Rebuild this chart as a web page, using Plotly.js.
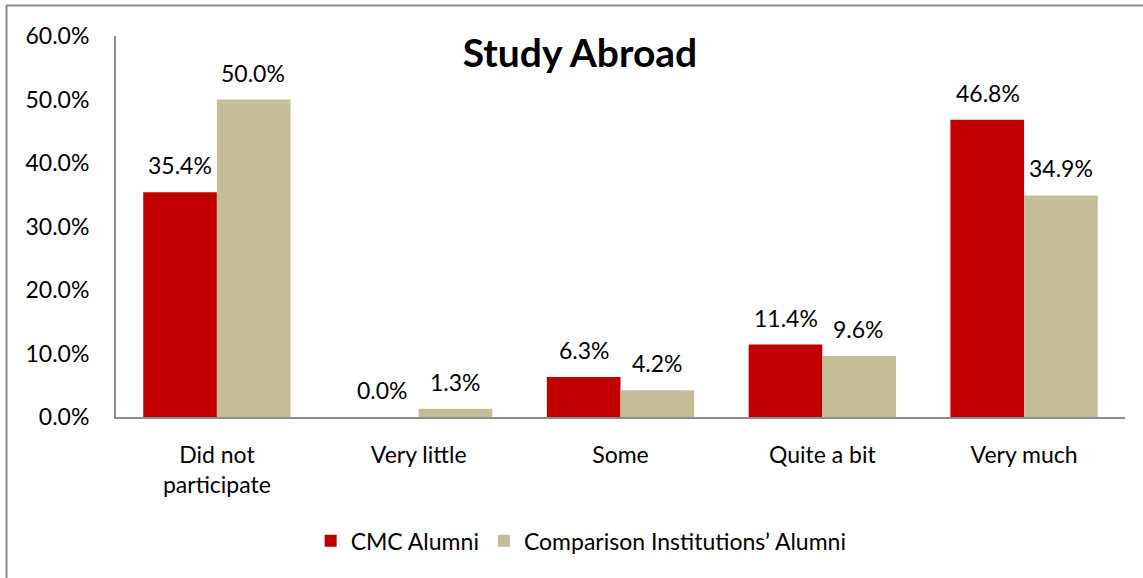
<!DOCTYPE html>
<html>
<head>
<meta charset="utf-8">
<script src="https://cdn.plot.ly/plotly-3.0.1.min.js"></script>
<style>html,body{margin:0;padding:0;background:#fff;}#chart{width:1143px;height:578px;}</style>
</head>
<body>
<div id="chart"></div>
<script>
var categories = ["Did not<br>participate", "Very little", "Some", "Quite a bit", "Very much"];
var seriesNames = ["CMC Alumni", "Comparison Institutions’ Alumni"];
var cmcValues = [35.4, 0.0, 6.3, 11.4, 46.8];
var compValues = [50.0, 1.3, 4.2, 9.6, 34.9];
var yTickVals = [0, 10, 20, 30, 40, 50, 60];
var yTickText = ["0.0%", "10.0%", "20.0%", "30.0%", "40.0%", "50.0%", "60.0%"];

var FONT = "Lato, 'Open Sans', sans-serif";
var FS = 23;
var RED = "#C00000", TAN = "#C4BD97";

var traces = [
  {type: "bar", name: seriesNames[0], x: categories, y: cmcValues, marker: {color: RED}, hoverinfo: "none"},
  {type: "bar", name: seriesNames[1], x: categories, y: compValues, marker: {color: TAN}, hoverinfo: "none"}
];

var annotations = [];
function addLabels(vals, shift) {
  vals.forEach(function (v, i) {
    annotations.push({
      x: categories[i], y: v, xref: "x", yref: "y",
      text: v.toFixed(1) + "%", showarrow: false,
      xanchor: "center", yanchor: "bottom", xshift: shift, yshift: 11,
      font: {family: FONT, size: FS, color: "#000"}
    });
  });
}
addLabels(cmcValues, -36.5);
addLabels(compValues, 36.5);

var layout = {
  width: 1143, height: 578,
  margin: {l: 116, r: 18, t: 36, b: 161},
  paper_bgcolor: "#fff", plot_bgcolor: "#fff",
  font: {family: FONT, size: FS, color: "#000"},
  title: {text: "<b>Study Abroad</b>", font: {family: FONT, size: 39, color: "#000"},
          x: 580 / 1143, xanchor: "center", y: 1 - 53 / 578, yanchor: "middle"},
  barmode: "group", bargap: 0.27, bargroupgap: 0,
  showlegend: true,
  legend: {orientation: "h", x: 0.461, xanchor: "center", y: -0.325, yanchor: "middle",
           font: {family: FONT, size: FS, color: "#000"}, itemwidth: 30, traceorder: "normal"},
  xaxis: {type: "category", showline: true, linecolor: "#8c8c8c", linewidth: 2,
          showgrid: false, zeroline: false, ticks: "outside", ticklen: 16, tickcolor: "rgba(0,0,0,0)",
          tickfont: {family: FONT, size: FS, color: "#000"}, fixedrange: true},
  yaxis: {range: [0, 60], tickvals: yTickVals, ticktext: yTickText, showline: true,
          linecolor: "#8c8c8c", linewidth: 2, showgrid: false, zeroline: false,
          ticks: "outside", ticklen: 20, tickcolor: "rgba(0,0,0,0)",
          tickfont: {family: FONT, size: FS, color: "#000"}, fixedrange: true},
  annotations: annotations,
  shapes: [
    {type: "line", xref: "paper", yref: "paper", x0: (6.5 - 116) / 1009, x1: (6.5 - 116) / 1009,
     y0: 1 + (36 - 5) / 381, y1: (417 - 580) / 381, line: {color: "#8c8c8c", width: 2}},
    {type: "line", xref: "paper", yref: "paper", x0: (6 - 116) / 1009, x1: (1145 - 116) / 1009,
     y0: 1 + (36 - 5.5) / 381, y1: 1 + (36 - 5.5) / 381, line: {color: "#8c8c8c", width: 2}}
  ]
};

Plotly.newPlot("chart", traces, layout, {displayModeBar: false, staticPlot: true});
</script>
</body>
</html>
